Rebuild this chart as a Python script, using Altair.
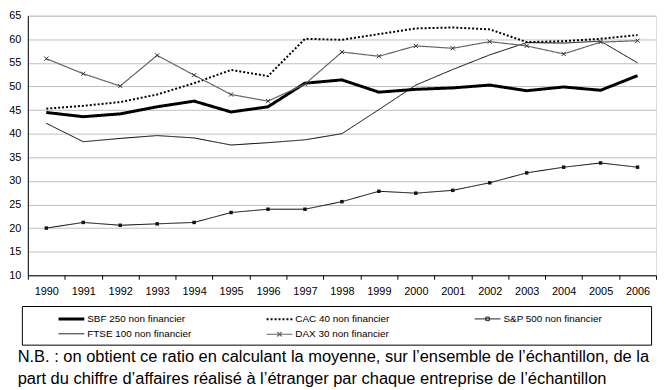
import altair as alt
import pandas as pd

FONT = "Liberation Sans"

years = [1990, 1991, 1992, 1993, 1994, 1995, 1996, 1997, 1998,
         1999, 2000, 2001, 2002, 2003, 2004, 2005, 2006]

series_names = ["SBF 250 non financier", "CAC 40 non financier", "S&P 500 non financier",
                "FTSE 100 non financier", "DAX 30 non financier"]

sbf = [44.5, 43.6, 44.2, 45.7, 46.9, 44.6, 45.7, 50.7, 51.4, 48.8, 49.4, 49.7, 50.3, 49.1, 49.9, 49.2, 52.3]
cac = [45.3, 45.9, 46.7, 48.3, 50.7, 53.5, 52.2, 60.1, 59.9, 61.1, 62.3, 62.5, 62.1, 59.4, 59.6, 60.1, 60.9]
sp500 = [20.0, 21.2, 20.6, 20.9, 21.2, 23.3, 24.0, 24.0, 25.6, 27.8, 27.4, 28.0, 29.6, 31.7, 32.9, 33.8, 32.9]
ftse = [42.2, 38.3, 39.0, 39.6, 39.1, 37.6, 38.1, 38.7, 40.0, 45.1, 50.3, 53.6, 56.7, 59.3, 59.2, 59.6, 55.0]
dax = [55.9, 52.7, 50.1, 56.6, 52.4, 48.3, 46.9, 50.5, 57.3, 56.4, 58.6, 58.1, 59.5, 58.6, 56.9, 59.4, 59.7]

y_ticks = [10, 15, 20, 25, 30, 35, 40, 45, 50, 55, 60, 65]

footnote = [
    "N.B. : on obtient ce ratio en calculant la moyenne, sur l\u2019ensemble de l\u2019\u00e9chantillon, de la",
    "part du chiffre d\u2019affaires r\u00e9alis\u00e9 \u00e0 l\u2019\u00e9tranger par chaque entreprise de l\u2019\u00e9chantillon",
]

# styles
line_colors = ["black", "black", "black", "black", "#666666"]
line_dashes = [[1, 0], [2, 2], [1, 0], [1, 0], [1, 0]]
line_widths = [3, 2, 1, 1, 1.2]

# legend symbols: a line, an invisible end point that fixes each entry's width, and the marker
legend_base = "M-2,0H2M24.3,0"
square_path = "M-0.27,-0.27H0.27V0.27H-0.27Z"
cross_path = "M-0.35,-0.35L0.35,0.35M0.35,-0.35L-0.35,0.35"
legend_shapes = [legend_base, legend_base, legend_base + square_path, legend_base,
                 legend_base + cross_path]

rows = []
for name, vals in zip(series_names, [sbf, cac, sp500, ftse, dax]):
    for yr, v in zip(years, vals):
        rows.append({"year": str(yr), "series": name, "value": v})
df = pd.DataFrame(rows)

x_enc = alt.X(
    "year:O",
    scale=alt.Scale(type="band", paddingInner=0, paddingOuter=0),
    axis=alt.Axis(title=None, labelAngle=0, tickBand="extent", tickSize=4, labelPadding=6,
                  domainColor="black", tickColor="black", labelFontSize=11, grid=False,
                  labelFont=FONT, labelColor="black"),
)
y_enc = alt.Y(
    "value:Q",
    scale=alt.Scale(domain=[10, 65], nice=False, zero=False),
    axis=alt.Axis(title=None, values=y_ticks, ticks=False, labelPadding=7, gridColor="#c0c0c0",
                  domainColor="black", labelFontSize=11, labelFont=FONT, labelColor="black"),
)

legend = alt.Legend(
    title=None, orient="none", legendX=-6, legendY=293, direction="horizontal", columns=3,
    gridAlign="all", columnPadding=1, rowPadding=2, padding=5, strokeColor="black",
    symbolSize=169, symbolOffset=37, labelOffset=8, symbolFillColor="transparent",
    labelFontSize=10, labelFont=FONT, labelColor="black", symbolOpacity=1,
)

color_enc = alt.Color("series:N", scale=alt.Scale(domain=series_names, range=line_colors), legend=legend)
dash_enc = alt.StrokeDash("series:N", scale=alt.Scale(type="ordinal", domain=series_names, range=line_dashes),
                          legend=legend)
width_enc = alt.StrokeWidth("series:N", scale=alt.Scale(type="ordinal", domain=series_names, range=line_widths),
                            legend=legend)
shape_enc = alt.Shape("series:N", scale=alt.Scale(domain=series_names, range=legend_shapes), legend=legend)

lines = alt.Chart(df).mark_line().encode(
    x=x_enc, y=y_enc, color=color_enc, strokeDash=dash_enc, strokeWidth=width_enc,
)

# layer that carries only the legend symbols (keeps no rows)
legend_layer = alt.Chart(df).transform_filter("false").mark_point(
    filled=False, size=169, opacity=1
).encode(x=x_enc, y=y_enc, color=color_enc, strokeDash=dash_enc, strokeWidth=width_enc, shape=shape_enc)

sp_points = alt.Chart(df).transform_filter(
    alt.datum.series == "S&P 500 non financier"
).mark_point(shape="square", filled=True, size=12, color="#111111", opacity=1).encode(x=x_enc, y=y_enc)

dax_points = alt.Chart(df).transform_filter(
    alt.datum.series == "DAX 30 non financier"
).mark_point(shape="M-1,-1L1,1M1,-1L-1,1", filled=False, size=18, color="#333333",
             strokeWidth=1, opacity=1).encode(x=x_enc, y=y_enc)

chart = alt.layer(lines, legend_layer, sp_points, dax_points).properties(
    width=634,
    height=262,
    padding={"left": 0, "top": 0, "right": 2, "bottom": 0},
    title=alt.TitleParams(footnote, orient="bottom", anchor="start", frame="bounds", fontSize=16.6,
                          font=FONT, fontWeight="normal", color="black", lineHeight=22, offset=4, dx=9),
).configure_view(stroke="#999999").configure(background="white")

chart.save("out.html", embed_options={"renderer": "svg", "actions": False})
